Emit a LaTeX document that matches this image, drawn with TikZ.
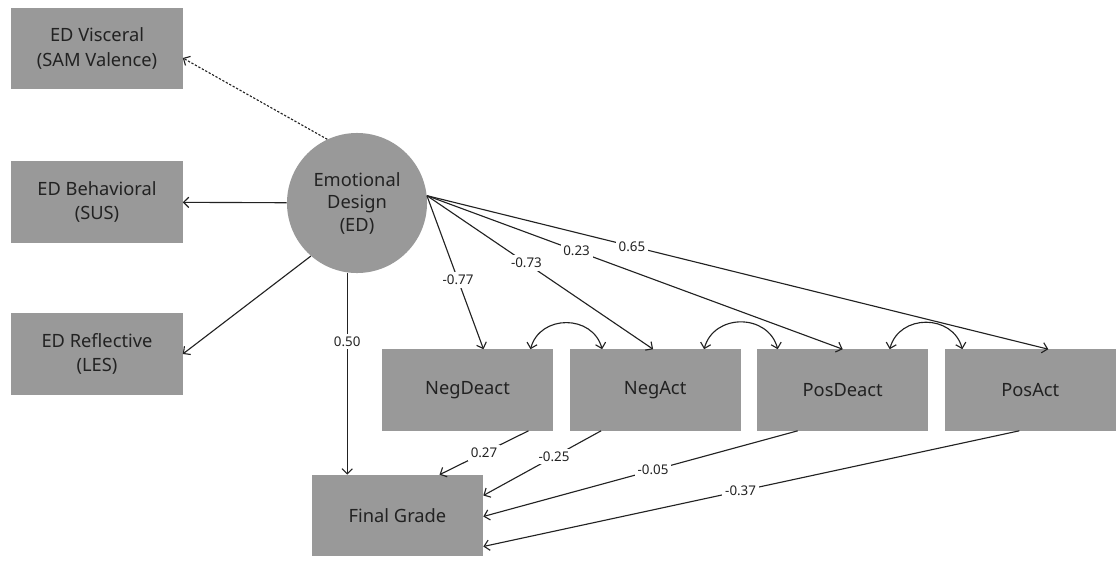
\documentclass[tikz,border=0pt]{standalone}
\usepackage{fontspec}
\setmainfont{Noto Sans}
\usepackage{xcolor}
\usepackage{tikz}
\usetikzlibrary{positioning,calc,arrows.meta}
\definecolor{cajagris}{HTML}{999999}
\definecolor{tinta}{HTML}{222222}

\begin{document}
\begin{tikzpicture}[
    x=0.025cm, y=-0.025cm,
    font=\fontsize{13}{17.5}\selectfont,
    medida/.style={fill=cajagris, text=tinta, align=center, minimum width=4.275cm, minimum height=2.025cm, inner sep=0pt},
    latente/.style={circle, fill=cajagris, text=tinta, align=center, minimum size=3.5cm, inner sep=0pt, font=\fontsize{13}{16}\selectfont},
    ruta/.style={-{Straight Barb[length=1.3mm, width=2.6mm]}, draw=tinta, line width=0.8pt},
    covar/.style={{Straight Barb[length=1.3mm, width=2.6mm]}-{Straight Barb[length=1.3mm, width=2.6mm]}, draw=tinta, line width=0.8pt},
    coef/.style={fill=white, text=tinta, inner sep=2pt, font=\fontsize{9.5}{10}\selectfont},
]
    \useasboundingbox (0,0) rectangle (1118,560);
    \node[medida] (vis) at (97,48.5) {ED Visceral\\(SAM Valence)};
    \node[medida] (beh) at (97,202) {ED Behavioral\\(SUS)};
    \node[medida] (ref) at (97,354) {ED Reflective\\(LES)};
    \node[latente] (ed) at (357,203) {Emotional\\Design\\(ED)};
    \node[medida] (nd) at (467.5,390) {NegDeact};
    \node[medida, right=0.4cm of nd] (na) {NegAct};
    \node[medida, right=0.4cm of na] (pd) {PosDeact};
    \node[medida, right=0.4cm of pd] (pa) {PosAct};
    \node[medida] (fg) at (397.5,515.5) {Final Grade};
    % indicadores
    \draw[ruta, dash pattern=on 1.6pt off 1.2pt] (ed.115) -- ($(vis.east)+(0,9.5)$);
    \draw[ruta] (ed) -- (beh);
    \draw[ruta] (ed.229) -- (ref.east);
    % emociones
    \foreach \dst/\dx/\t/\val in {nd/16/0.55/-0.77, na/-2/0.44/-0.73, pd/0/0.36/0.23, pa/18/0.33/0.65}
        \draw[ruta] (ed.6) -- ($(\dst.north)+(\dx,0)$) node[coef, pos=\t] {\val};
    \foreach \a/\b/\p/\q in {nd/na/63/-53, na/pd/49/-65, pd/pa/47/-68}
        \draw[covar] ($(\a.north)+(\p,0)$) to[bend left=75, looseness=1.3] ($(\b.north)+(\q,0)$);
    % nota final
    \draw[ruta] (ed.262) -- (ed.262 |- fg.north) node[coef, pos=0.34] {0.50};
    \draw[ruta] ($(nd.south)+(61,0)$) -- ($(fg.north)+(42,0)$) node[coef, pos=0.5] {0.27};
    \foreach \src/\sx/\dy/\t/\val in {na/-54/-20/0.4/-0.25, pd/-45/1/0.46/-0.05, pa/-11/31/0.52/-0.37}
        \draw[ruta] ($(\src.south)+(\sx,0)$) -- ($(fg.east)+(0,\dy)$) node[coef, pos=\t] {\val};
\end{tikzpicture}
\end{document}
